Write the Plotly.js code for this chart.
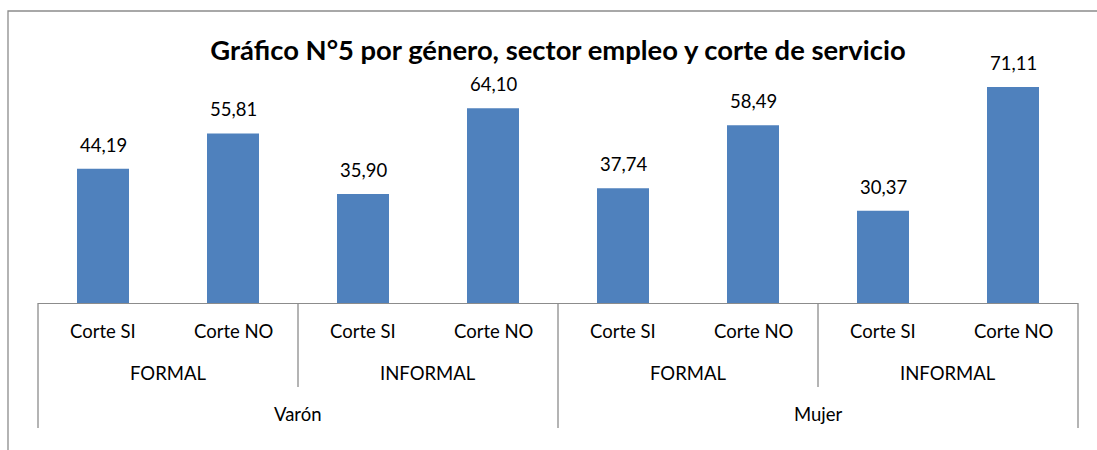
<!DOCTYPE html>
<html>
<head>
<meta charset="utf-8">
<script src="https://cdn.plot.ly/plotly-3.0.1.min.js"></script>
<style>html,body{margin:0;padding:0;background:#fff;}#chart{width:1097px;height:450px;}</style>
</head>
<body>
<div id="chart"></div>
<script>
// ---- data ----
const genders = ['Varón', 'Mujer'];
const sectors = ['FORMAL', 'INFORMAL'];
const cortes = ['Corte SI', 'Corte NO'];
const values = [44.19, 55.81, 35.90, 64.10, 37.74, 58.49, 30.37, 71.11];
const titleText = 'Gráfico N°5 por género, sector empleo y corte de servicio';

// ---- build categories ----
const cats = [];
const leaf = [];
genders.forEach(g => sectors.forEach(s => cortes.forEach(c => {
  cats.push(g + '|' + s + '|' + c);
  leaf.push({g, s, c});
})));

const W = 1097, H = 450;
const M = {l: 38, r: 19, t: 60, b: 147};
const plotH = H - M.t - M.b;
const plotW = W - M.l - M.r;
const py = px => -px / plotH;  // pixel offset below axis -> paper y
const FONT = 'Lato, "Open Sans", sans-serif';
const GREY = '#8c8c8c';

const fmt = v => v.toFixed(2).replace('.', ',');

const annotations = [];
// value labels
cats.forEach((c, i) => annotations.push({
  x: c, y: values[i], xref: 'x', yref: 'y', text: fmt(values[i]),
  showarrow: false, yanchor: 'middle', yshift: 24,
  font: {family: FONT, size: 18.5, color: '#000'}
}));
// level 1 labels
cats.forEach((c, i) => annotations.push({
  x: i, y: 0, xref: 'x', yref: 'paper', text: leaf[i].c,
  showarrow: false, yanchor: 'middle', yshift: -28,
  font: {family: FONT, size: 18.5, color: '#000'}
}));
// level 2 labels
const nC = cortes.length, nS = sectors.length;
for (let k = 0; k < genders.length * nS; k++) {
  annotations.push({
    x: k * nC + (nC - 1) / 2, y: 0, xref: 'x', yref: 'paper', text: sectors[k % nS],
    showarrow: false, yanchor: 'middle', yshift: -70,
    font: {family: FONT, size: 18.5, color: '#000'}
  });
}
// level 3 labels
genders.forEach((g, k) => annotations.push({
  x: k * nC * nS + (nC * nS - 1) / 2, y: 0, xref: 'x', yref: 'paper', text: g,
  showarrow: false, yanchor: 'middle', yshift: -111,
  font: {family: FONT, size: 18.5, color: '#000'}
}));

// separator lines
const shapes = [];
const N = cats.length;
for (let k = 0; k <= N; k++) {
  let depth = 0;
  if (k % (nC * nS) === 0) depth = 125;
  else if (k % nC === 0) depth = 84;
  if (!depth) continue;
  shapes.push({type: 'line', xref: 'paper', yref: 'paper', x0: k / N, x1: k / N, y0: 0, y1: py(depth),
    line: {color: GREY, width: 1.3}});
}
// outer chart border
shapes.push({type: 'rect', xref: 'paper', yref: 'paper',
  x0: (8 - M.l) / plotW, x1: 1.1, y0: -1, y1: (303 - 11) / plotH,
  line: {color: GREY, width: 1.3}, fillcolor: 'rgba(0,0,0,0)'});

const trace = {
  type: 'bar', x: cats, y: values,
  marker: {color: '#4F81BD'}, width: 0.4, hoverinfo: 'skip'
};

const layout = {
  width: W, height: H,
  margin: M,
  paper_bgcolor: '#fff', plot_bgcolor: '#fff',
  showlegend: false,
  title: {text: '<b>' + titleText + '</b>', x: 0.5, xref: 'paper', xanchor: 'center',
    y: 1 - 50 / H, yref: 'container', yanchor: 'middle',
    font: {family: FONT, size: 27.4, color: '#000'}},
  xaxis: {type: 'category', range: [-0.5, N - 0.5], showticklabels: false, ticks: '',
    showline: true, linecolor: GREY, linewidth: 1.3, showgrid: false, zeroline: false, fixedrange: true},
  yaxis: {range: [0, 80], visible: false, showgrid: false, zeroline: false, fixedrange: true},
  annotations, shapes,
  font: {family: FONT}
};

Plotly.newPlot('chart', [trace], layout, {displayModeBar: false, staticPlot: true});
</script>
</body>
</html>
